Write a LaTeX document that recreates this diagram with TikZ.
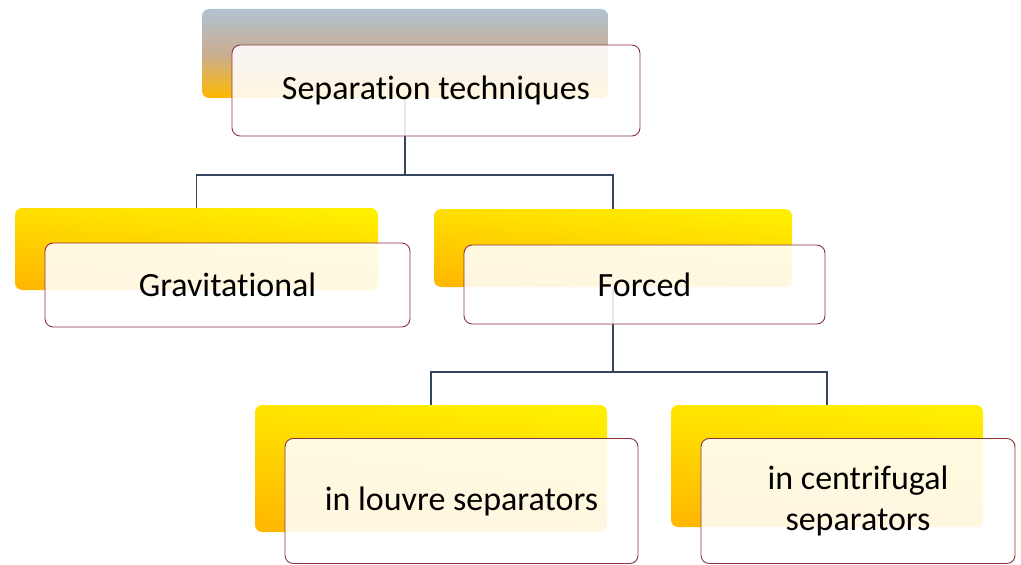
\documentclass[tikz,border=0pt]{standalone}
\usepackage{fontspec}
\setmainfont{Carlito}[Ligatures=NoCommon]
\usepackage{tikz}
\usetikzlibrary{positioning,calc}
\definecolor{linkblue}{HTML}{34465E}
\definecolor{edgered}{HTML}{8E3440}
\definecolor{topgray}{HTML}{B2C2D2}
\definecolor{midyellow}{HTML}{FFF000}
\definecolor{deeporange}{HTML}{FFB800}

\begin{document}
\begin{tikzpicture}[x=0.03cm, y=-0.03cm,
    sz/.style 2 args={minimum width=#1*0.03cm, minimum height=#2*0.03cm},
    backbox/.style={rounded corners=6pt, inner sep=0pt,
                    top color=midyellow, bottom color=deeporange, shading angle=-6},
    frontbox/.style={draw=edgered, line width=0.8pt, rounded corners=7pt, inner sep=0pt,
                     fill=white, fill opacity=0.88, text opacity=1, align=center,
                     font=\fontsize{29}{35}\selectfont},
    link/.style={draw=linkblue, line width=1.2pt}
]
\useasboundingbox (0,0) rectangle (1021,564);

% --- back boxes ---
\node[backbox, sz={406}{89}, top color=topgray, bottom color=deeporange,
      middle color=orange!30!topgray, shading angle=0] (rootb) at (405,53.5) {};
\node[backbox, sz={363}{82}] (gravb) at (196.5,249) {};
\node[backbox, sz={358}{78}] (forcb) at (613,248) {};
\node[backbox, sz={352}{127}] (louvb) at (431,468.5) {};
\node[backbox, sz={312}{122}] (centb) at (827,466) {};

% --- connectors ---
\coordinate (j1) at (405,175);
\coordinate (j2) at (613,372);
\draw[link] (rootb.south) -- (j1) -| (gravb.north);
\draw[link] (j1) -| (forcb.north);
\draw[link] (forcb.south) -- (j2) -| (louvb.north);
\draw[link] (j2) -| (centb.north);

% --- front boxes ---
\node[frontbox, sz={408}{91}]  (root) at (436,90.5)  {Separation techniques};
\node[frontbox, sz={365}{84}]  (grav) at (227.5,285) {Gravitational};
\node[frontbox, sz={361}{79}]  (forc) at (644.5,284.5) {Forced};
\node[frontbox, sz={353}{125}] (louv) at (461.5,501) {in louvre separators};
\node[frontbox, sz={314}{125}] (cent) at (858,501) {in centrifugal\\separators};

\end{tikzpicture}
\end{document}
